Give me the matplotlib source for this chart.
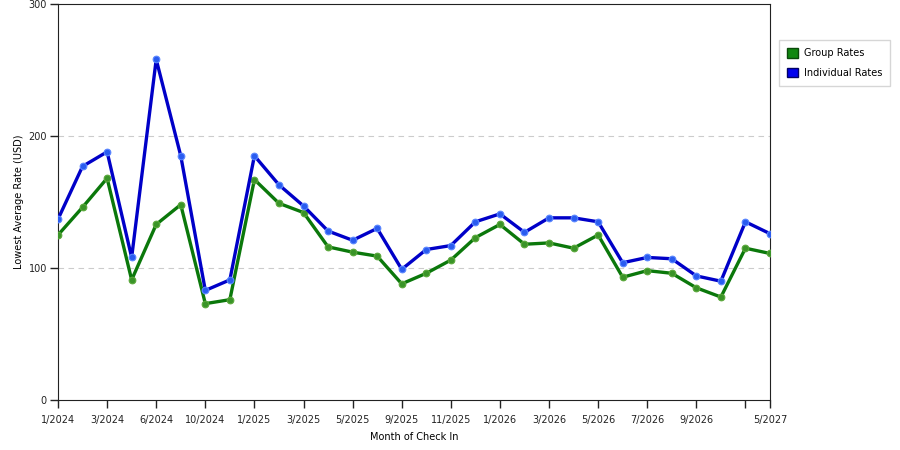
"""Lowest average rate by month of check-in: group vs individual."""
import matplotlib
matplotlib.use("Agg")
import matplotlib.pyplot as plt
from matplotlib.patches import Patch
import numpy as np

# month of check-in (only some are labelled on the axis)
months = ["1/2024", "2/2024", "3/2024", "5/2024", "6/2024", "7/2024", "10/2024", "11/2024",
          "1/2025", "2/2025", "3/2025", "4/2025", "5/2025", "7/2025", "9/2025", "10/2025",
          "11/2025", "12/2025", "1/2026", "2/2026", "3/2026", "4/2026", "5/2026", "6/2026",
          "7/2026", "8/2026", "9/2026", "10/2026", "3/2027", "5/2027"]
shown_labels = ["1/2024", "3/2024", "6/2024", "10/2024", "1/2025", "3/2025", "5/2025",
                "9/2025", "11/2025", "1/2026", "3/2026", "5/2026", "7/2026", "9/2026", "5/2027"]

group_rates = [125, 146, 168, 91, 133, 148, 73, 76, 167, 149, 142, 116, 112, 109, 88, 96,
               106, 123, 133, 118, 119, 115, 125, 93, 98, 96, 85, 78, 115, 111]
individual_rates = [137, 177, 188, 108, 258, 185, 83, 91, 185, 163, 147, 128, 121, 130, 99, 114,
                    117, 135, 141, 127, 138, 138, 135, 104, 108, 107, 94, 90, 135, 126]

GREEN, GREEN_MK = "#0b780b", "#3a9428"
BLUE, BLUE_MK = "#0000c8", "#2a5cf0"

fig = plt.figure(figsize=(9, 4.5), dpi=100)
ax = fig.add_axes([58 / 900, 1 - 400 / 450, (770 - 58) / 900, (400 - 4) / 450])

x = np.arange(len(months))
ax.plot(x, group_rates, color=GREEN, lw=2.4, marker="o", ms=4.8,
        mfc=GREEN_MK, mec="#5aa83a", mew=0.8, zorder=3)
ax.plot(x, individual_rates, color=BLUE, lw=2.4, marker="o", ms=4.8,
        mfc=BLUE_MK, mec="#5a86ff", mew=0.8, zorder=4)

ax.set_xlim(0, len(months) - 1)
ax.set_ylim(0, 300)
ax.set_yticks([0, 100, 200, 300])
ticks = [i for i in range(len(months)) if i % 2 == 0] + [len(months) - 1]
ax.set_xticks(ticks)
ax.set_xticklabels([months[i] if months[i] in shown_labels else "" for i in ticks])
ax.tick_params(axis="both", direction="out", length=6, width=1, labelsize=7,
               colors="#222222", pad=2)
ax.tick_params(axis="x", pad=5)
for s in ax.spines.values():
    s.set_color("#222222")
for yv in (100, 200):
    ax.axhline(yv, color="#cccccc", lw=0.8, ls=(0, (5, 4)), zorder=1)

ax.set_xlabel("Month of Check In", fontsize=7, labelpad=5)
ax.set_ylabel("Lowest Average Rate (USD)", fontsize=7, labelpad=3)

handles = [Patch(facecolor="#118811", edgecolor="#0a4a0a", label="Group Rates"),
           Patch(facecolor="#0000ee", edgecolor="#000066", label="Individual Rates")]
fig.legend(handles=handles, loc="upper left", bbox_to_anchor=(779 / 900, 1 - 40 / 450),
           borderaxespad=0, fontsize=7, frameon=True, fancybox=False, edgecolor="#cccccc",
           handlelength=1.1, handleheight=1.1, borderpad=0.85, labelspacing=0.95,
           handletextpad=0.6)

fig.savefig("out.png", dpi=100)
